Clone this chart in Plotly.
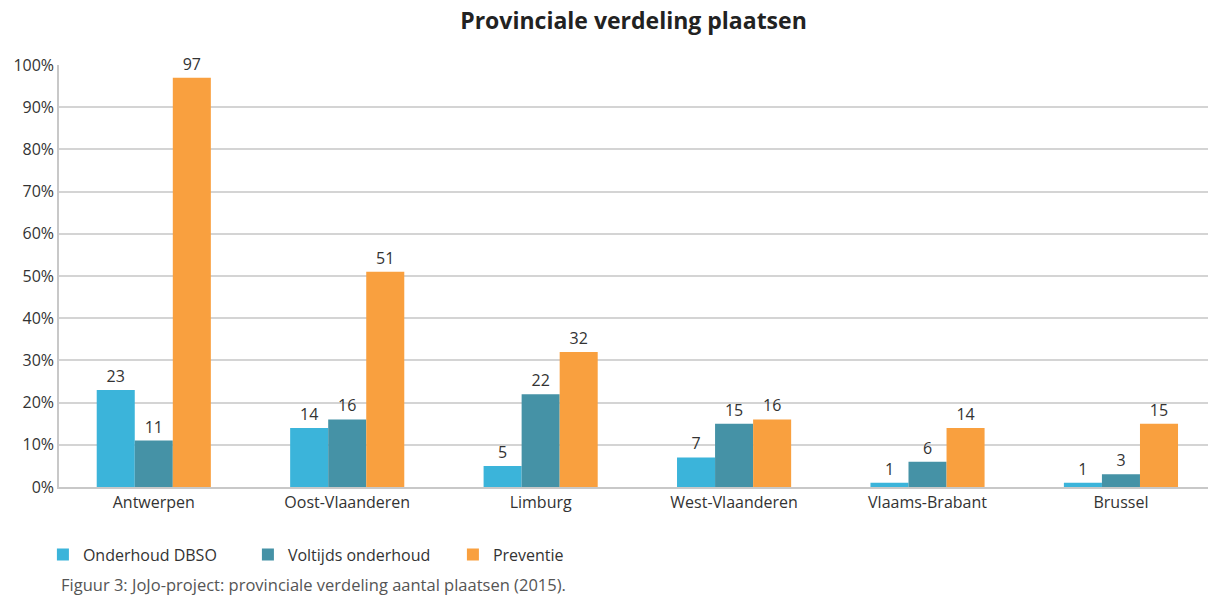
import plotly.graph_objects as go

categories = ["Antwerpen", "Oost-Vlaanderen", "Limburg", "West-Vlaanderen", "Vlaams-Brabant", "Brussel"]
onderhoud_dbso = [23, 14, 5, 7, 1, 1]
voltijds_onderhoud = [11, 16, 22, 15, 6, 3]
preventie = [97, 51, 32, 16, 14, 15]
y_ticks = [0, 10, 20, 30, 40, 50, 60, 70, 80, 90, 100]
y_tick_labels = [f"{v}%" for v in y_ticks]

series = [
    ("Onderhoud DBSO", onderhoud_dbso, "#3BB4DA"),
    ("Voltijds onderhoud", voltijds_onderhoud, "#4592A6"),
    ("Preventie", preventie, "#F9A03F"),
]

FONT = "Open Sans"
fig = go.Figure()
for name, vals, col in series:
    fig.add_trace(go.Bar(
        x=categories, y=vals, name=name, marker_color=col, marker_line_width=0,
        text=[str(v) for v in vals], textposition="outside", cliponaxis=False,
        textfont=dict(size=16, color="#333333", family=FONT),
    ))

fig.update_layout(
    width=1208, height=596,
    margin=dict(l=59, r=0, t=65, b=109),
    paper_bgcolor="white", plot_bgcolor="white",
    barmode="group", bargap=0.41, bargroupgap=0,
    font=dict(family=FONT, color="#333333", size=15),
    title=dict(text="<b>Provinciale verdeling plaatsen</b>", xref="paper", x=0.5, xanchor="center",
               y=0.965, yanchor="middle", font=dict(size=23, color="#222222", family=FONT)),
    legend=dict(orientation="h", x=-0.014, xanchor="left", y=-0.16, yanchor="middle",
                font=dict(size=16, color="#333333"), itemwidth=30, tracegroupgap=0,
                entrywidthmode="pixels", entrywidth=160),
    xaxis=dict(range=[-0.49, 5.45], showline=True, linecolor="#c8c8c8", linewidth=2,
               tickfont=dict(size=16, color="#333333"), ticks=""),
    yaxis=dict(range=[0, 100], tickvals=y_ticks, ticktext=y_tick_labels,
               showgrid=True, gridcolor="#d4d4d4", gridwidth=1.5,
               showline=True, linecolor="#c8c8c8", linewidth=1.5,
               tickfont=dict(size=16, color="#333333"), zeroline=False),
)
fig.add_annotation(text="Figuur 3: JoJo-project: provinciale verdeling aantal plaatsen (2015).",
                   xref="paper", yref="paper", x=0, y=-0.23, xanchor="left", yanchor="middle",
                   showarrow=False, font=dict(size=16.5, color="#555555", family=FONT))
fig.write_html("out.html", config={"displayModeBar": False},
               post_script="document.body.style.margin='0';document.body.style.overflow='hidden';")
